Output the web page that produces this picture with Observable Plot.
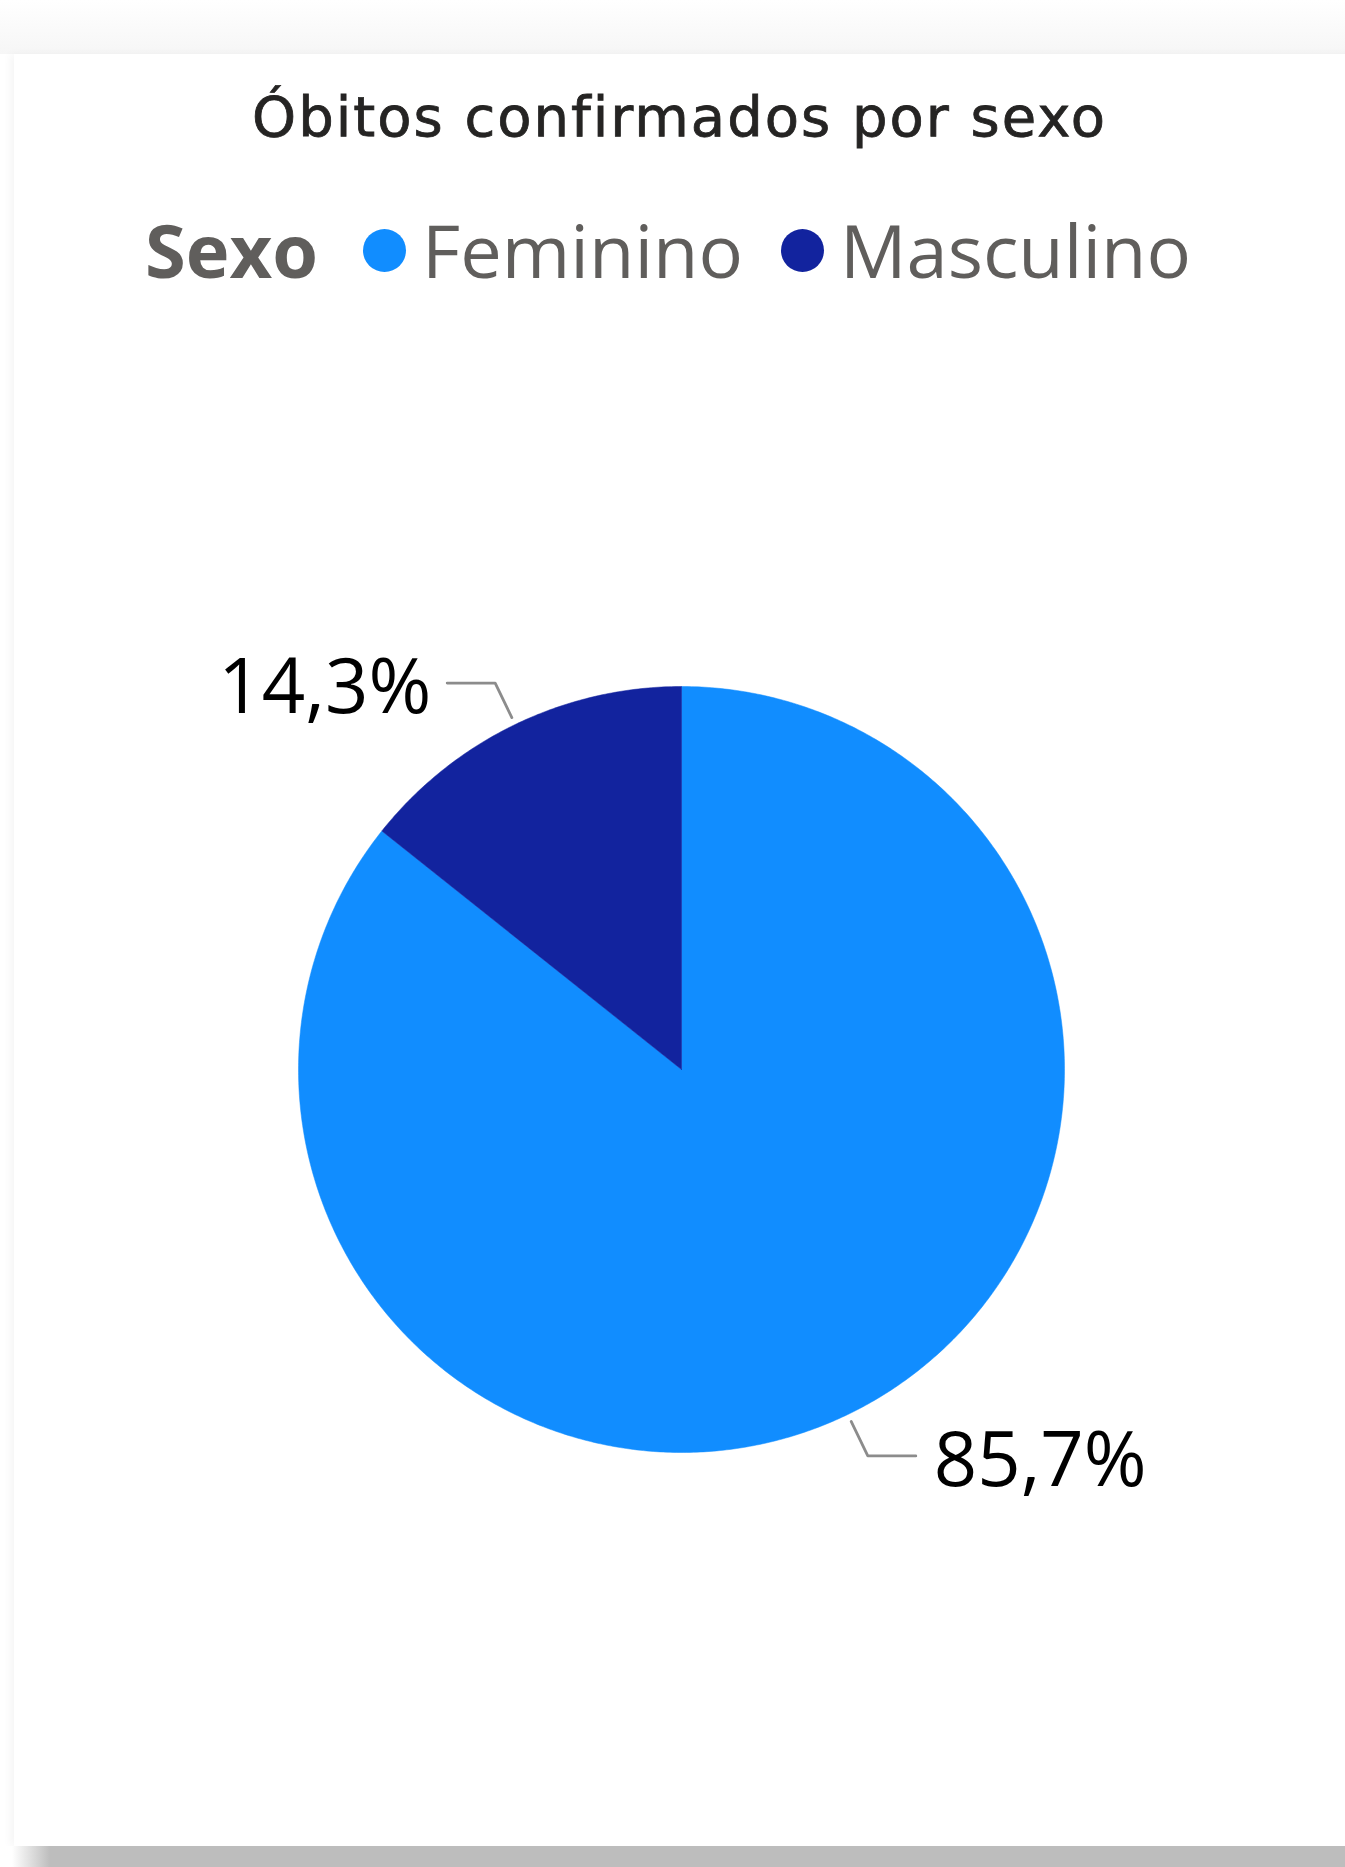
<!DOCTYPE html>
<html>
<head>
<meta charset="utf-8">
<script src="https://cdn.jsdelivr.net/npm/d3@7"></script>
<script src="https://cdn.jsdelivr.net/npm/@observablehq/plot@0.6"></script>
<style>
  html, body { margin: 0; padding: 0; background: #ffffff; }
  body { width: 1345px; height: 1867px; position: relative; overflow: hidden; }
  #topshade { position: absolute; left: 0; top: 0; width: 1345px; height: 54px;
    background: linear-gradient(to bottom, #ffffff 0%, #f6f6f6 100%); }
  #panel { position: absolute; left: 14px; top: 54px; width: 1340px; height: 1792px; background: #ffffff;
    box-shadow: -4px 0 8px rgba(0,0,0,0.04); }
  #bottomband { position: absolute; left: 0; top: 1846px; width: 1345px; height: 21px;
    background: linear-gradient(to right, #ffffff 12px, #bdbdbd 50px, #bdbdbd 100%); }
  #title { position: absolute; left: 14px; width: 1331px; top: 89px; text-align: center;
    font-family: "DejaVu Sans", sans-serif; font-size: 56px; line-height: 1; letter-spacing: 2px;
    -webkit-text-stroke: 0.8px #252423; color: #252423; }
  #legend { position: absolute; left: 145px; top: 213px; display: flex; align-items: center;
    font-family: "Open Sans", sans-serif; font-size: 74px; line-height: 1; color: #605E5C; }
  #legend .head { font-weight: 700; margin-right: 45px; }
  #legend .sw { width: 43px; height: 43px; border-radius: 50%; margin-right: 16px; }
  #legend .item { margin-right: 38px; }
  #chart { position: absolute; left: 0; top: 330px; }
</style>
</head>
<body>
<div id="topshade"></div>
<div id="panel"></div>
<div id="bottomband"></div>
<div id="title"></div>
<div id="legend"></div>
<div id="chart"></div>
<script>
// ---- data ----
const titleText = "Óbitos confirmados por sexo";
const legendTitle = "Sexo";
const categories = ["Feminino", "Masculino"];
const values = [85.7, 14.3];
const labels = ["85,7%", "14,3%"];
const colors = ["#118DFF", "#12239E"];

// ---- title & legend ----
document.getElementById("title").textContent = titleText;
const leg = document.getElementById("legend");
const head = document.createElement("span");
head.className = "head"; head.textContent = legendTitle; leg.appendChild(head);
categories.forEach((c, i) => {
  const sw = document.createElement("span");
  sw.className = "sw"; sw.style.background = colors[i]; leg.appendChild(sw);
  const t = document.createElement("span");
  t.className = "item"; t.textContent = c; leg.appendChild(t);
});

// ---- layout ----
const W = 1345, H = 1510;
const cx = 681, cy = 739, R = 383;

const pieData = categories.map((c, i) => ({cat: c, value: values[i], label: labels[i]}));
const arcs = d3.pie().sort(null).value(d => d.value)(pieData);

// slice polygons in unit (radius) space
const slicePts = [];
arcs.forEach(a => {
  const steps = Math.max(8, Math.ceil((a.endAngle - a.startAngle) / (Math.PI / 360)));
  slicePts.push({cat: a.data.cat, x: 0, y: 0});
  for (let k = 0; k <= steps; k++) {
    const t = a.startAngle + (a.endAngle - a.startAngle) * k / steps;
    slicePts.push({cat: a.data.cat, x: Math.sin(t), y: Math.cos(t)});
  }
  slicePts.push({cat: a.data.cat, x: 0, y: 0});
});

// leader lines and labels
const r1 = 1.02, r2 = 1.12, hor = 48 / R;
const leaderPts = [];
const labelPts = [];
arcs.forEach(a => {
  const m = (a.startAngle + a.endAngle) / 2;
  const side = Math.sin(m) >= 0 ? 1 : -1;
  const p1 = {x: r1 * Math.sin(m), y: r1 * Math.cos(m)};
  const p2 = {x: r2 * Math.sin(m), y: r2 * Math.cos(m)};
  const p3 = {x: p2.x + side * hor, y: p2.y};
  [p1, p2, p3].forEach(p => leaderPts.push({cat: a.data.cat, ...p}));
  labelPts.push({cat: a.data.cat, label: a.data.label, x: p3.x, y: p3.y, side});
});

const chart = Plot.plot({
  width: W,
  height: H,
  margin: 0,
  x: {domain: [-cx / R, (W - cx) / R], range: [0, W], axis: null},
  y: {domain: [cy / R, -(H - cy) / R], range: [0, H], axis: null},
  color: {domain: categories, range: colors},
  style: {background: "transparent", overflow: "visible"},
  marks: [
    Plot.line(slicePts, {x: "x", y: "y", z: "cat", fill: "cat", stroke: "cat", strokeWidth: 0.5, curve: "linear"}),
    Plot.line(leaderPts, {x: "x", y: "y", z: "cat", stroke: "#8c8c8c", strokeWidth: 2.8}),
    Plot.text(labelPts.filter(d => d.side > 0), {x: "x", y: "y", text: "label", dx: 18, dy: 6, textAnchor: "start",
      lineAnchor: "middle", fontSize: 76, fontFamily: "Open Sans", fill: "#000000"}),
    Plot.text(labelPts.filter(d => d.side < 0), {x: "x", y: "y", text: "label", dx: -16, dy: 6, textAnchor: "end",
      lineAnchor: "middle", fontSize: 76, fontFamily: "Open Sans", fill: "#000000"})
  ]
});
document.getElementById("chart").appendChild(chart);
</script>
</body>
</html>
